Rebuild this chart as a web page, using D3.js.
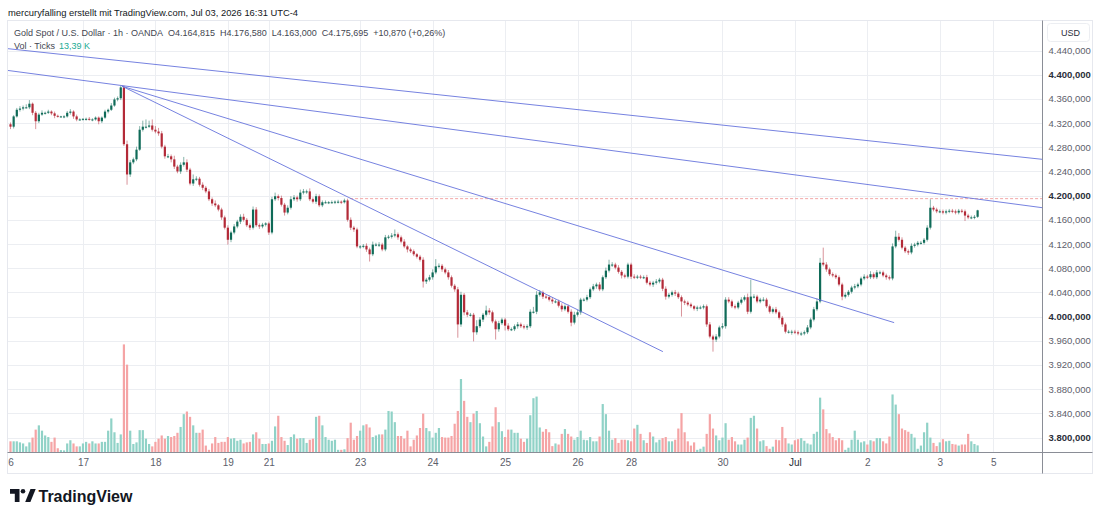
<!DOCTYPE html>
<html>
<head>
<meta charset="utf-8">
<script src="https://cdn.jsdelivr.net/npm/d3@7"></script>
<style>
  body { margin: 0; background: #fff; }
  svg { display: block; }
  text { font-family: "Liberation Sans", Arial, sans-serif; }
</style>
</head>
<body>
<svg id="chart" width="1100" height="519"></svg>
<script>
// XAU/USD 1h, 16. Juni – 3. Juli
const firstOpen = 4318;
const closes = [
  4314,4331,4342,4344,4346,4346,4352,4337,4323,4334,
  4337,4337,4339,4336,4332,4331,4331,4331,4337,4339,
  4331,4326,4326,4327,4327,4326,4326,4329,4323,4329,
  4339,4342,4349,4359,4361,4379,4285,4235,4255,4260,
  4276,4309,4314,4314,4316,4309,4306,4303,4281,4265,
  4265,4260,4248,4240,4251,4255,4243,4220,4227,4228,
  4218,4213,4207,4194,4187,4184,4177,4164,4147,4127,
  4139,4149,4157,4165,4160,4151,4147,4177,4151,4149,
  4152,4154,4139,4194,4199,4196,4185,4172,4180,4194,
  4197,4194,4205,4207,4207,4194,4190,4199,4184,4189,
  4189,4189,4189,4190,4190,4189,4192,4160,4147,4144,
  4116,4116,4117,4111,4103,4119,4119,4119,4111,4131,
  4132,4134,4136,4131,4124,4116,4111,4108,4103,4099,
  4094,4058,4061,4065,4073,4083,4084,4078,4073,4065,
  4051,4045,3987,4036,4007,4003,4003,3974,3984,3995,
  4003,4010,4007,3992,3979,3989,3995,3985,3979,3979,
  3984,3987,3984,3982,3984,4008,4008,4036,4040,4033,
  4032,4028,4025,4025,4018,4012,4017,4008,3990,4003,
  4007,4028,4028,4032,4045,4050,4053,4045,4065,4076,
  4086,4086,4081,4074,4068,4066,4086,4066,4065,4066,
  4065,4065,4056,4053,4056,4058,4061,4046,4033,4036,
  4040,4038,4032,4025,4023,4020,4017,4013,4015,4015,
  4017,3987,3967,3962,3967,3982,3984,4028,4025,4017,
  4015,4023,4028,4032,4008,4033,4033,4025,4028,4028,
  4017,4008,4012,4007,3998,3987,3975,3975,3975,3974,
  3972,3972,3974,3982,3995,4012,4025,4089,4086,4078,
  4070,4068,4065,4053,4033,4036,4041,4048,4050,4053,
  4063,4066,4065,4070,4065,4073,4073,4068,4065,4063,
  4116,4132,4127,4114,4108,4106,4117,4119,4122,4122,
  4127,4147,4180,4177,4174,4174,4172,4174,4175,4174,
  4172,4175,4174,4167,4164,4164,4165,4175.7
];
// Dochtlängen über / unter dem Körper (USD)
const wickUp = [
  3,2,3,4,3,5,6,2,3,3,
  4,2,3,2,3,2,1,2,3,4,
  2,3,2,1,2,3,2,2,2,2,
  3,2,4,3,3,3,3,6,4,3,
  5,6,10,12,8,10,6,6,4,3,
  4,3,6,3,4,9,5,3,8,4,
  3,4,3,4,3,5,2,3,3,4,
  3,4,3,4,5,3,3,5,4,3,
  3,2,3,4,6,3,4,3,4,5,
  4,3,5,4,3,5,3,4,3,3,
  3,2,3,2,3,2,3,3,4,3,
  3,2,3,4,3,5,3,4,3,4,
  3,4,8,3,3,4,2,3,3,2,
  3,4,3,4,5,12,4,3,3,4,
  3,3,4,5,3,4,3,3,10,4,
  3,8,4,3,3,4,3,3,4,3,
  3,4,3,3,3,4,8,6,4,3,
  3,3,4,3,3,4,3,3,4,5,
  4,3,3,4,3,4,3,4,3,5,
  8,4,3,4,3,3,3,3,4,3,
  3,3,4,3,3,4,3,3,4,3,
  3,4,3,3,3,3,3,2,3,3,
  3,3,4,3,4,3,5,4,4,3,
  3,3,4,3,6,28,4,3,3,4,
  3,3,3,4,3,3,3,3,3,3,
  3,3,3,4,3,4,5,8,25,4,
  3,3,3,3,3,4,3,3,4,3,
  3,4,3,5,3,4,3,3,3,3,
  5,10,6,4,3,3,4,3,3,3,
  3,4,14,3,3,3,3,3,3,3,
  3,3,3,3,3,3,3,0.9
];
const wickDown = [
  4,3,2,3,3,2,3,4,13,3,
  2,3,2,3,4,2,2,3,2,3,
  4,3,2,2,3,2,3,2,5,3,
  2,3,2,2,3,3,3,17,4,3,
  3,2,3,3,2,3,3,4,3,4,
  3,5,4,3,4,3,4,3,4,3,
  3,4,3,3,4,3,3,4,3,8,
  4,3,3,4,3,3,4,3,3,4,
  3,3,4,3,3,4,3,5,3,3,
  3,4,3,3,4,3,3,4,3,3,
  2,3,2,3,3,3,2,3,4,4,
  3,4,3,4,12,3,3,4,3,3,
  3,3,3,4,3,3,5,3,3,3,
  3,10,4,3,4,3,3,4,3,4,
  3,4,22,4,5,4,3,15,4,3,
  4,3,4,3,17,4,3,8,3,3,
  3,4,3,3,4,3,3,4,3,4,
  3,3,4,3,3,4,3,3,6,3,
  3,4,3,3,3,3,4,3,3,3,
  3,4,3,3,5,3,3,4,3,3,
  3,3,3,3,4,3,3,4,5,3,
  3,4,3,25,4,3,3,3,4,3,
  3,4,3,20,4,3,3,4,3,3,
  3,3,3,3,4,3,3,3,3,3,
  3,3,3,3,3,4,3,3,5,3,
  3,4,3,3,3,3,3,3,3,4,
  3,3,3,3,6,3,3,3,3,3,
  3,3,3,3,3,3,3,3,4,3,
  3,3,3,3,3,4,3,3,3,3,
  3,3,3,3,3,3,3,3,3,3,
  3,3,3,9,3,3,3,1.8
];
// Volumen (Ticks, Tausend)
const volumes = [
  21,21,21,19,17,11.5,19,28,43,51,
  41,32,29,20,28,8,4.5,4,17,23,
  17,11.5,11.5,17,20,17,21,17,17,20,
  20,41,64,38,18,34,203,165,41,16,
  19,42,42,26,16,11.5,20,26,32,26,
  31,29,31,37,48,72,77,67,51,37,
  37,43,13,5,17,29,18,20,20,29,
  26,27,22,24,17,19,20,34,38,26,
  16,16,17,22,49,69,29,22,14,29,
  34,26,27,27,18,24,26,67,69,51,
  29,24,22,24,5,5,6,27,56,24,
  31,41,51,53,47,29,32,34,34,43,
  78,77,57,31,31,26,41,11.5,24,32,
  46,73,46,40,28,37,46,29,28,28,
  31,54,78,138,97,67,57,73,78,55,
  30,11.5,20,49,85,57,40,29,43,43,
  37,37,26,20,26,70,102,105,47,39,
  44,38,12,17,15,35,44,35,30,24,
  29,41,24,23,29,21,21,30,91,72,
  41,24,27,18,24,24,23,21,45,52,
  35,23,18,38,30,19,24,27,29,21,
  21,24,45,74,38,21,13,19,5,7,
  11,35,72,45,32,23,28,55,24,29,
  21,15,15,24,28,65,69,45,21,23,
  12,7,11,24,23,48,27,17,15,23,
  25,27,22,17,15,35,39,103,81,44,
  36,29,23,27,23,5,9,24,41,24,
  19,21,15,23,21,27,27,21,17,30,
  109,90,72,45,42,39,35,28,7,13,
  38,56,28,18,12,19,25,21,22,16,
  15,13,15,15,35,21,16,13.39
];

const dateLabels = ["6","17","18","19","21","23","24","25","26","28","30","Jul","2","3","5"];
const dateIndex  = [0,23,46,69,82,111,134,157,180,197,226,249,272,295,312];
const priceTicks = d3.range(3800, 4441, 40);
const boldTicks  = [3800, 4000, 4200, 4400];

// Trendlinien: [Balkenindex, Preis]
const trendLines = [
  [[-0.8, 4443], [327.6, 4260]],
  [[-0.8, 4407], [327.6, 4180]],
  [[35.4, 4381], [280.5, 3990]],
  [[35.4, 4381], [207.1, 3942]]
];
const levelLine = { from: 107.8, price: 4195 };

const headerTop = "mercuryfalling erstellt mit TradingView.com, Jul 03, 2026 16:31 UTC-4";
const legendParts = ["Gold Spot / U.S. Dollar · 1h · OANDA", "O4.164,815", "H4.176,580", "L4.163,000", "C4.175,695", "+10,870 (+0,26%)"];

// ── Aufbau ───────────────────────────────────────────────────
const W = 1100, H = 519;
const plot = { left: 8, right: 1042.5, top: 21, bottom: 452.5 };
const frame = { right: 1092.5, bottom: 473.5 };

const UP = "#0f6b58", DOWN = "#b32a38";
const VUP = "#90d2c7", VDOWN = "#f5a4a5";

const svg = d3.select("#chart");

const x = d3.scaleLinear().domain([-0.794, 327.6]).range([plot.left, plot.right]);
const y = d3.scaleLinear().domain([3800, 4440]).range([437.5, 50.5]);
const yVol = d3.scaleLinear().domain([0, 200]).range([plot.bottom, 346]);

const de = d3.formatLocale({ decimal: ",", thousands: ".", grouping: [3], currency: ["", ""] });
const fmtPrice = de.format(",.3f");

const bars = closes.map((c, i) => {
  const o = i === 0 ? firstOpen : closes[i - 1];
  return {
    i, o, c,
    h: Math.max(o, c) + wickUp[i],
    l: Math.min(o, c) - wickDown[i],
    v: volumes[i],
    up: c >= o
  };
});

svg.append("rect").attr("width", W).attr("height", H).attr("fill", "#fff");

const defs = svg.append("defs");
defs.append("clipPath").attr("id", "plot-clip")
  .append("rect")
  .attr("x", plot.left).attr("y", plot.top)
  .attr("width", plot.right - plot.left).attr("height", plot.bottom - plot.top);

// Gitter
const grid = svg.append("g").attr("class", "grid");
grid.selectAll("line.h").data(priceTicks).join("line")
  .attr("class", "h")
  .attr("x1", plot.left).attr("x2", plot.right)
  .attr("y1", d => Math.round(y(d)) + 0.5).attr("y2", d => Math.round(y(d)) + 0.5)
  .attr("stroke", "#eceef2");
grid.selectAll("line.v").data(dateIndex.slice(1)).join("line")
  .attr("class", "v")
  .attr("x1", d => Math.round(x(d)) + 0.5).attr("x2", d => Math.round(x(d)) + 0.5)
  .attr("y1", plot.top).attr("y2", plot.bottom)
  .attr("stroke", "#eceef2");

// Volumen
const gVol = svg.append("g").attr("clip-path", "url(#plot-clip)");
gVol.selectAll("rect").data(bars).join("rect")
  .attr("x", d => x(d.i) - 1.1)
  .attr("width", 2.2)
  .attr("y", d => yVol(d.v))
  .attr("height", d => plot.bottom - yVol(d.v))
  .attr("fill", d => d.up ? VUP : VDOWN);

// Kerzen
const gC = svg.append("g").attr("clip-path", "url(#plot-clip)");
gC.selectAll("line").data(bars).join("line")
  .attr("x1", d => x(d.i)).attr("x2", d => x(d.i))
  .attr("y1", d => y(d.h)).attr("y2", d => y(d.l))
  .attr("stroke", d => d.up ? UP : DOWN)
  .attr("stroke-opacity", 0.5)
  .attr("stroke-width", 1);
gC.selectAll("rect").data(bars).join("rect")
  .attr("x", d => x(d.i) - 1.1)
  .attr("width", 2.2)
  .attr("y", d => y(Math.max(d.o, d.c)))
  .attr("height", d => Math.max(1, Math.abs(y(d.o) - y(d.c))))
  .attr("fill", d => d.up ? UP : DOWN);

// Zeichnungen
const gD = svg.append("g").attr("clip-path", "url(#plot-clip)");
gD.append("line")
  .attr("x1", x(levelLine.from)).attr("x2", plot.right)
  .attr("y1", y(levelLine.price)).attr("y2", y(levelLine.price))
  .attr("stroke", "#f3a7a7").attr("stroke-width", 1)
  .attr("stroke-dasharray", "3,2");
gD.selectAll("line.trend").data(trendLines).join("line")
  .attr("class", "trend")
  .attr("x1", d => x(d[0][0])).attr("y1", d => y(d[0][1]))
  .attr("x2", d => x(d[1][0])).attr("y2", d => y(d[1][1]))
  .attr("stroke", "#6674dc").attr("stroke-width", 0.9);

// Rahmen und Achsenlinien
svg.append("rect")
  .attr("x", 7.5).attr("y", 20.5)
  .attr("width", frame.right - 7.5).attr("height", frame.bottom - 20.5)
  .attr("fill", "none").attr("stroke", "#e6e8ee");
svg.append("line")
  .attr("x1", plot.right).attr("x2", plot.right)
  .attr("y1", 20.5).attr("y2", frame.bottom)
  .attr("stroke", "#8a8d96");
svg.append("line")
  .attr("x1", 7.5).attr("x2", frame.right)
  .attr("y1", plot.bottom).attr("y2", plot.bottom)
  .attr("stroke", "#8a8d96");

// Preisachse
const yAxis = svg.append("g")
  .attr("transform", `translate(${plot.right + 2},0)`)
  .call(d3.axisRight(y).tickValues(priceTicks).tickSize(0).tickPadding(4).tickFormat(fmtPrice));
yAxis.select(".domain").remove();
yAxis.selectAll("text")
  .attr("font-family", "'Liberation Sans', Arial, sans-serif")
  .attr("font-size", 9.5)
  .attr("font-weight", d => boldTicks.includes(d) ? "bold" : "normal")
  .attr("fill", d => boldTicks.includes(d) ? "#2a2e39" : "#5d606b");

svg.append("rect")
  .attr("x", 1047.5).attr("y", 23.5).attr("width", 42).attr("height", 18).attr("rx", 3)
  .attr("fill", "#fff").attr("stroke", "#eceef2");
svg.append("text")
  .attr("x", 1061).attr("y", 36)
  .attr("font-size", 9).attr("fill", "#2a2e39")
  .text("USD");

// Zeitachse
const xAxis = svg.append("g")
  .attr("transform", `translate(0,${plot.bottom})`)
  .call(d3.axisBottom(x).tickValues(dateIndex).tickSize(0).tickPadding(6)
    .tickFormat((d, i) => dateLabels[i]));
xAxis.select(".domain").remove();
xAxis.selectAll("text")
  .attr("font-family", "'Liberation Sans', Arial, sans-serif")
  .attr("font-size", 10)
  .attr("fill", (d, i) => dateLabels[i] === "Jul" ? "#2a2e39" : "#5d606b");

// Kopfzeilen
svg.append("text")
  .attr("x", 8).attr("y", 16)
  .attr("font-size", 9.4).attr("fill", "#131722")
  .text(headerTop);

const legend = svg.append("text")
  .attr("x", 14).attr("y", 36)
  .attr("font-size", 9).attr("fill", "#434651");
legendParts.forEach((p, k) => {
  legend.append("tspan").attr("dx", k === 0 ? 0 : 5).text(p);
});

const vol = svg.append("text")
  .attr("x", 14).attr("y", 49)
  .attr("font-size", 9).attr("fill", "#434651");
vol.append("tspan").text("Vol · Ticks");
vol.append("tspan").attr("dx", 4).attr("fill", "#22ab94").text(de.format(",.2f")(volumes[volumes.length - 1]) + " K");

// Logo
const logo = svg.append("g").attr("fill", "#131722");
logo.append("path").attr("d", "M10,489 h9.5 v13 h-4.7 v-8.3 h-4.8 z");
logo.append("circle").attr("cx", 23).attr("cy", 491.3).attr("r", 2.3);
logo.append("path").attr("d", "M25.2,502 l5.3,-13 h5.2 l-5.3,13 z");
logo.append("text")
  .attr("x", 38.5).attr("y", 502)
  .attr("font-family", "Inter, 'Open Sans', sans-serif")
  .attr("font-size", 16).attr("font-weight", 600)
  .text("TradingView");
</script>
</body>
</html>
